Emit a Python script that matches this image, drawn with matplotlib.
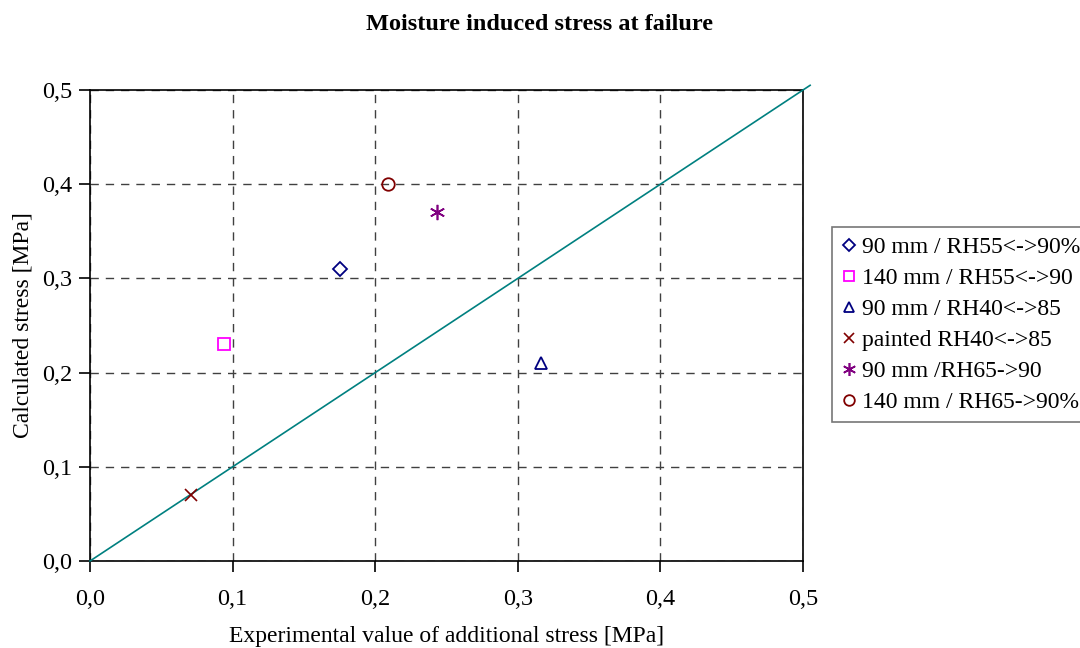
import matplotlib
matplotlib.use("Agg")
import numpy as np
import matplotlib.pyplot as plt
from matplotlib.ticker import MultipleLocator, FuncFormatter

plt.rcParams['font.family'] = ['Liberation Serif', 'DejaVu Serif']

# === Data ===
labels = ["90 mm / RH55<->90%", "140 mm / RH55<->90", "90 mm / RH40<->85",
          "painted RH40<->85", "90 mm /RH65->90", "140 mm / RH65->90%"]
exp_stress = [0.175, 0.094, 0.316, 0.071, 0.243, 0.209]
calc_stress = [0.31, 0.23, 0.21, 0.07, 0.37, 0.40]
markers = ["D", "s", "^", "x", "*", "o"]
colors = ["#000080", "#FF00FF", "#000080", "#800000", "#800080", "#800000"]
sizes = [7, 9, 9, 9, 11, 9]
line_x = [0.0, 0.505]

fig = plt.figure(figsize=(10.8, 6.48), dpi=100)
ax = fig.add_axes([90 / 1080, 1 - 561 / 648, 713 / 1080, 471 / 648])

ax.plot(line_x, line_x, color="#008080", lw=1.2, clip_on=False, zorder=3)

for x, y, m, c, s, lab in zip(exp_stress, calc_stress, markers, colors, sizes, labels):
    if m == "*":
        ax.plot(x, y, ls="none", marker=(6, 2, 0), markersize=s,
                markeredgecolor=c, markeredgewidth=1.2, label=lab, zorder=4)
    elif m == "x":
        ax.plot(x, y, ls="none", marker="x", markersize=s,
                markeredgecolor=c, markeredgewidth=1.2, label=lab, zorder=4)
    else:
        ax.plot(x, y, ls="none", marker=m, markersize=s, markerfacecolor="none",
                markeredgecolor=c, markeredgewidth=1.3, label=lab, zorder=4)

ax.set_xlim(0, 0.5)
ax.set_ylim(0, 0.5)
ax.xaxis.set_major_locator(MultipleLocator(0.1))
ax.yaxis.set_major_locator(MultipleLocator(0.1))
fmt = FuncFormatter(lambda v, p: f"{v:.1f}".replace(".", ","))
ax.xaxis.set_major_formatter(fmt)
ax.yaxis.set_major_formatter(fmt)
ax.tick_params(axis="both", direction="out", length=8, width=1.2, labelsize=17.5)
ax.tick_params(axis="y", pad=5)
ax.tick_params(axis="x", pad=12)

ax.grid(True, color="#404040", linestyle=(0, (6, 5)), linewidth=1)
for sp in ax.spines.values():
    sp.set_color("black")
    sp.set_linewidth(1.2)

ax.set_xlabel("Experimental value of additional stress [MPa]", fontsize=17, labelpad=12)
ax.set_ylabel("Calculated stress [MPa]", fontsize=17, labelpad=6)
fig.text(0.5, 1 - 24 / 648, "Moisture induced stress at failure", ha="center",
         va="center", fontsize=17.5, fontweight="bold")

leg = fig.legend(loc="upper left", bbox_to_anchor=(832 / 1080, 1 - 227 / 648),
                 fontsize=17, frameon=True, fancybox=False, borderaxespad=0,
                 handlelength=0.6, handletextpad=0.25, labelspacing=0.4,
                 borderpad=0.4, markerscale=0.85)
leg.get_frame().set_edgecolor("#555555")
leg.get_frame().set_linewidth(1.2)

fig.savefig("out.png", dpi=100)
